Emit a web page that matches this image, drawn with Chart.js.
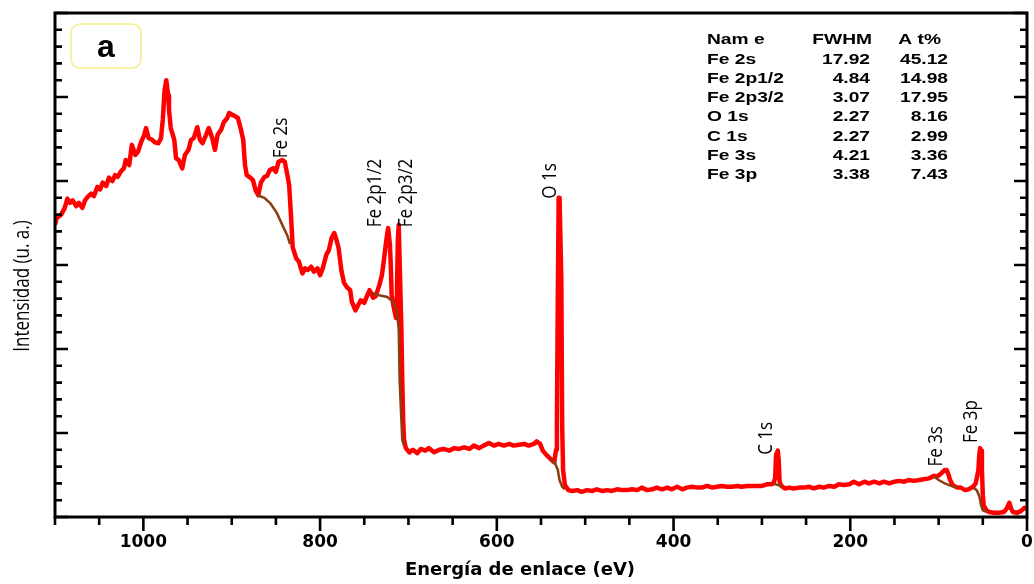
<!DOCTYPE html>
<html><head><meta charset="utf-8">
<script src="https://cdn.jsdelivr.net/npm/chart.js@4.4.1/dist/chart.umd.min.js"></script>
<style>html,body{margin:0;padding:0;background:#fff;overflow:hidden}canvas{display:block}</style>
</head><body>
<canvas id="c" width="1034" height="584"></canvas>
<script>
// XPS survey spectrum (binding energy in eV, intensity in a.u.)
const surveyEnergy = [1100,1098,1093,1089,1086,1083,1080,1076,1073,1069,1066,1063,1059,1056,1052,1049,1046,1042,1039,1035,1032,1029,1025,1022,1020,1016,1013,1009,1006,1003,999,997,994,990,987,983,980,978,976,974,972,971,969,965,963,960,956,953,949,946,943,939,936,933,929,926,922,919,916,912,909,905,903,900,896,893,890,887,885,883,879,876,873,870,867,863,860,857,853,850,847,843,840,837,835,833,831,827,824,820,817,814,810,807,803,800,797,793,790,787,784,782,779,776,773,770,766,764,760,757,754,750,747,744,740,737,733,730,728,725,723,721,720,719,716,714,713,712,711,710,708,707,706,705,703,699,695,690,686,681,677,671,665,660,654,648,643,637,631,626,620,615,609,603,598,592,586,581,575,569,564,558,555,551,548,543,539,535,533,532,531,530,529,527,526,525,523,519,515,509,504,498,492,487,481,475,470,464,458,453,447,441,436,430,424,419,413,407,402,396,390,385,379,373,368,362,356,351,345,340,334,328,323,317,311,306,300,297,294,290,287,285,284,282,281,280,278,274,269,264,258,252,247,241,235,230,224,218,213,207,201,196,190,184,179,173,167,162,156,150,145,139,134,128,122,117,111,105,102,98,95,93,91,89,87,84,79,75,70,66,61,58,55,54,53,52,51,50,49,46,43,37,32,26,23,20,18,16,11,7,3,1];
const surveyIntensity = [34.8,35.6,36.0,36.8,37.9,37.4,37.7,37.0,37.4,36.8,37.7,38.1,38.5,38.2,39.3,39.0,39.8,39.4,40.4,40.0,40.7,40.5,41.2,41.5,42.5,41.9,44.3,43.1,43.5,44.5,45.5,46.3,45.1,44.9,44.6,44.5,45.1,47.3,50.8,52.0,50.2,48.5,46.3,44.9,42.7,42.5,41.5,43.1,43.7,44.9,45.1,46.4,44.9,44.5,45.5,46.3,45.1,43.7,45.5,46.1,47.0,47.5,48.1,47.9,47.7,47.5,46.3,44.9,41.9,40.7,40.4,40.1,38.9,38.3,39.8,40.5,40.6,41.3,41.5,41.1,42.3,42.5,42.3,40.7,39.5,36.0,32.1,30.8,30.4,29.0,29.6,29.4,29.8,29.2,29.6,28.8,29.6,31.2,31.8,33.2,33.8,33.2,32.0,29.4,27.9,27.4,27.0,25.6,24.6,25.2,25.8,25.5,26.3,27.0,26.1,26.3,27.6,28.8,30.4,33.0,34.4,32.4,30.0,26.4,24.6,23.7,27.0,33.0,34.8,30.6,22.3,16.3,11.5,9.2,8.2,7.7,8.0,7.6,8.1,7.9,8.2,7.7,8.0,8.1,7.9,8.2,8.1,8.3,8.1,8.5,8.2,8.5,8.8,8.5,8.7,8.5,8.7,8.5,8.6,8.7,8.5,8.7,9.0,8.7,7.9,7.3,6.9,6.5,8.0,11.2,25.8,38.0,38.0,28.2,10.7,5.6,3.8,3.2,3.1,3.2,3.0,3.2,3.1,3.3,3.1,3.2,3.1,3.3,3.2,3.2,3.3,3.2,3.5,3.2,3.3,3.5,3.3,3.5,3.3,3.6,3.3,3.5,3.6,3.5,3.5,3.7,3.5,3.6,3.7,3.6,3.6,3.7,3.6,3.7,3.7,3.7,3.7,3.8,3.9,3.9,4.0,4.6,7.4,7.9,6.8,4.2,3.7,3.4,3.5,3.4,3.5,3.5,3.6,3.4,3.6,3.5,3.7,3.6,3.9,3.8,3.9,4.2,3.9,4.2,4.0,4.2,4.0,4.2,4.0,4.2,4.3,4.2,4.4,4.3,4.4,4.5,4.6,4.9,4.8,5.1,5.4,5.6,5.6,5.1,4.4,3.8,3.5,3.5,3.2,3.3,3.6,4.0,5.6,7.4,8.2,7.9,5.6,2.6,1.4,0.8,0.6,0.5,0.5,0.6,1.0,1.7,1.0,0.6,0.5,0.7,1.1,1.0];

// Shirley-type backgrounds under each peak
const bgFe2sE = [871,863,856,849,842,837,834];
const bgFe2sI = [38.3,38.0,37.3,36.2,34.6,33.5,32.5];
const bgFe2pE = [742,733,724,717,713,711,710,708,707,705];
const bgFe2pI = [26.7,26.4,26.2,25.6,24.4,22.3,16.3,11.5,9.2,8.5];
const bgO1sE = [539,534,531,529,526,523];
const bgO1sI = [6.9,6.4,5.6,4.4,3.6,3.3];
const bgC1sE = [287,282,277];
const bgC1sI = [4.0,3.8,3.7];
const bgFe3sE = [105,100,93,86,79];
const bgFe3sI = [4.8,4.4,4.0,3.7,3.5];
const bgFe3pE = [61,57,54,52,50,45];
const bgFe3pI = [3.5,3.2,2.5,1.4,0.8,0.6];

// Peak labels (anchor energy / intensity)
const peakLabels = ["Fe 2s","Fe 2p1/2","Fe 2p3/2","O 1s","C 1s","Fe 3s","Fe 3p"];
const peakLabelE = [844,737,702,539,295,102,63];
const peakLabelI = [42.7,34.5,34.5,37.9,7.4,6.0,8.8];

// Quantification table
const tableHeader = ["Nam e","FWHM","A t%"];
const tableNames = ["Fe 2s","Fe 2p1/2","Fe 2p3/2","O 1s","C 1s","Fe 3s","Fe 3p"];
const tableFWHM = ["17.92","4.84","3.07","2.27","2.27","4.21","3.38"];
const tableAt = ["45.12","14.98","17.95","8.16","2.99","3.36","7.43"];

// Axis ticks
const xMajorTicks = [0,200,400,600,800,1000];
const xMinorTicks = [0,50,100,150,200,250,300,350,400,450,500,550,600,650,700,750,800,850,900,950,1000,1050,1100];
const yMajorTicks = [0,10,20,30,40,50,60];
const yMinorTicks = [0,2,4,6,8,10,12,14,16,18,20,22,24,26,28,30,32,34,36,38,40,42,44,46,48,50,52,54,56,58,60];

const pts = (E, I) => E.map((e, i) => ({x: e, y: I[i]}));
const BROWN = '#8B3E12';
const bgDs = (E, I) => ({data: pts(E, I), borderColor: BROWN, borderWidth: 2.5, showLine: true, pointRadius: 0, tension: 0});

function stretchText(ctx, t, x, y, align, sx) {
  ctx.save(); ctx.translate(x, y); ctx.scale(sx, 1); ctx.textAlign = align; ctx.fillText(t, 0, 0); ctx.restore();
}

const decor = {
  id: 'decor',
  afterDatasetsDraw(chart) {
    const {ctx, chartArea: a, scales: {x, y}} = chart;
    ctx.save();
    ctx.strokeStyle = '#000';
    ctx.lineCap = 'butt';
    // frame
    ctx.lineWidth = 3;
    ctx.strokeRect(a.left, a.top, a.right - a.left, a.bottom - a.top);
    // ticks
    ctx.lineWidth = 2.6;
    ctx.beginPath();
    for (const v of xMinorTicks) {
      const px = x.getPixelForValue(v);
      const len = xMajorTicks.includes(v) ? 14 : 8;
      ctx.moveTo(px, a.bottom); ctx.lineTo(px, a.bottom + len);
    }
    for (const v of yMinorTicks) {
      const py = y.getPixelForValue(v);
      const len = yMajorTicks.includes(v) ? 13 : 7;
      ctx.moveTo(a.left, py); ctx.lineTo(a.left + len, py);
      ctx.moveTo(a.right, py); ctx.lineTo(a.right - len, py);
    }
    ctx.stroke();

    // axis titles
    ctx.fillStyle = '#000';
    ctx.font = 'bold 18px "DejaVu Sans"';
    ctx.textBaseline = 'alphabetic';
    ctx.textAlign = 'center';
    ctx.fillText('Energía de enlace (eV)', 520, 575);

    ctx.font = '17px "Open Sans"';
    ctx.save();
    ctx.translate(23, 286); ctx.scale(1.3, 1); ctx.rotate(-Math.PI / 2);
    ctx.textAlign = 'center'; ctx.textBaseline = 'middle';
    ctx.fillText('Intensidad (u. a.)', 0, 0);
    ctx.restore();

    // peak labels
    ctx.font = '17px "Open Sans"';
    peakLabels.forEach((t, i) => {
      const px = x.getPixelForValue(peakLabelE[i]);
      const py = y.getPixelForValue(peakLabelI[i]);
      ctx.save();
      ctx.translate(px, py); ctx.scale(1.12, 1); ctx.rotate(-Math.PI / 2);
      ctx.textAlign = 'left'; ctx.textBaseline = 'middle';
      ctx.fillText(t, 0, 0);
      ctx.restore();
    });

    // panel tag box
    ctx.strokeStyle = '#F5EF8C';
    ctx.lineWidth = 1.6;
    const bx = 71, by = 24, bw = 70, bh = 44, r = 9;
    ctx.beginPath();
    ctx.moveTo(bx + r, by);
    ctx.arcTo(bx + bw, by, bx + bw, by + bh, r);
    ctx.arcTo(bx + bw, by + bh, bx, by + bh, r);
    ctx.arcTo(bx, by + bh, bx, by, r);
    ctx.arcTo(bx, by, bx + bw, by, r);
    ctx.closePath();
    ctx.stroke();
    ctx.fillStyle = '#000';
    ctx.font = 'bold 32px "Liberation Sans"';
    ctx.textAlign = 'center'; ctx.textBaseline = 'alphabetic';
    ctx.fillText('a', 106, 57);

    // table
    ctx.font = 'bold 15px "Liberation Sans"';
    ctx.fillStyle = '#000';
    const sx = 1.28;
    const base0 = 44.3, step = 19.28;
    stretchText(ctx, tableHeader[0], 707, base0, 'left', sx);
    stretchText(ctx, tableHeader[1], 872, base0, 'right', sx);
    stretchText(ctx, tableHeader[2], 941, base0, 'right', sx);
    tableNames.forEach((n, i) => {
      const yy = base0 + step * (i + 1);
      stretchText(ctx, n, 707, yy, 'left', sx);
      stretchText(ctx, tableFWHM[i], 870, yy, 'right', sx);
      stretchText(ctx, tableAt[i], 948, yy, 'right', sx);
    });
    ctx.restore();
  }
};

new Chart(document.getElementById('c'), {
  type: 'scatter',
  data: {
    datasets: [
      bgDs(bgFe2sE, bgFe2sI),
      bgDs(bgFe2pE, bgFe2pI),
      bgDs(bgO1sE, bgO1sI),
      bgDs(bgC1sE, bgC1sI),
      bgDs(bgFe3sE, bgFe3sI),
      bgDs(bgFe3pE, bgFe3pI),
      {data: pts(surveyEnergy, surveyIntensity), borderColor: '#FF0000', borderWidth: 4.5, showLine: true, pointRadius: 0, tension: 0, borderJoinStyle: 'round'}
    ]
  },
  options: {
    responsive: false,
    animation: false,
    layout: {padding: {left: 55, right: 7, top: 13, bottom: 0}},
    plugins: {legend: {display: false}, tooltip: {enabled: false}},
    scales: {
      x: {
        type: 'linear', reverse: true, min: 0, max: 1100,
        grid: {display: false, drawTicks: false},
        border: {display: false},
        afterBuildTicks: s => { s.ticks = xMajorTicks.map(v => ({value: v})); },
        afterFit: s => { s.height = 67; s.paddingLeft = 0; s.paddingRight = 0; },
        ticks: {autoSkip: false, maxRotation: 0, padding: 15, color: '#000', font: {family: 'DejaVu Sans', size: 17, weight: 'bold'}, callback: v => String(v)}
      },
      y: {display: false, min: 0, max: 60}
    }
  },
  plugins: [decor]
});
</script>
</body></html>
